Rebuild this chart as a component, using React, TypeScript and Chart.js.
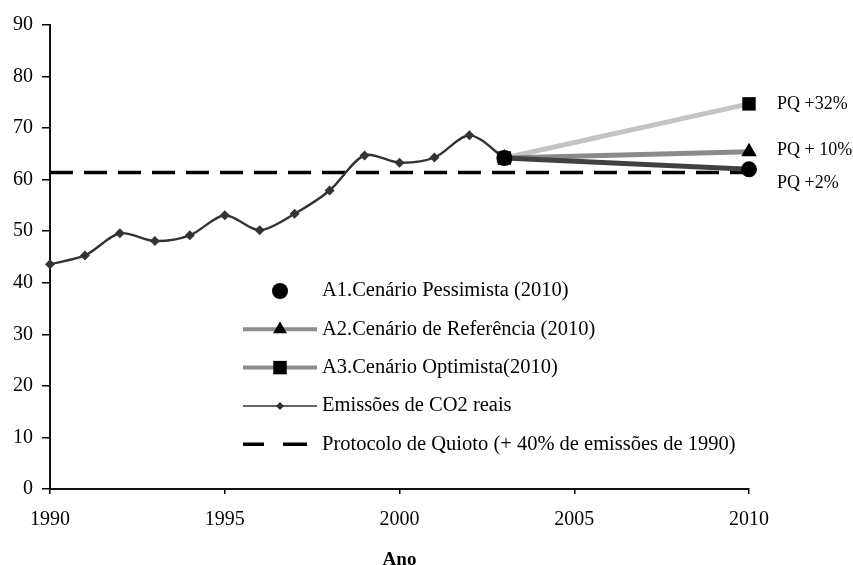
import React, { useEffect, useRef } from 'react';
import { Chart, registerables } from 'chart.js';

Chart.register(...registerables);

const years = [1990, 1991, 1992, 1993, 1994, 1995, 1996, 1997, 1998, 1999, 2000, 2001, 2002, 2003];
const emissions = [43.6, 45.3, 49.6, 48.1, 49.2, 53.1, 50.2, 53.4, 57.9, 64.7, 63.3, 64.3, 68.6, 64.2];
const scenarioYears = [2003, 2010];
const pessimista = [64.2, 62.0];
const referencia = [64.2, 65.4];
const optimista = [64.2, 74.7];
const kyotoYears = [1990, 2010];
const kyoto = [61.4, 61.4];
const pqLabels = ['PQ +2%', 'PQ + 10%', 'PQ +32%'];
const legendLabels = [
  'A1.Cenário Pessimista (2010)',
  'A2.Cenário de Referência (2010)',
  'A3.Cenário Optimista(2010)',
  'Emissões de CO2 reais',
  'Protocolo de Quioto (+ 40% de emissões de 1990)',
];
const xTicks = [1990, 1995, 2000, 2005, 2010];
const yTicks = [0, 10, 20, 30, 40, 50, 60, 70, 80, 90];
const xTitle = 'Ano';

const FONT = "'Liberation Serif', 'Times New Roman', serif";

const toPts = (xs: number[], ys: number[]) => xs.map((x, i) => ({ x, y: ys[i] }));

function drawMarker(ctx: CanvasRenderingContext2D, style: string, x: number, y: number, r: number) {
  ctx.save();
  ctx.fillStyle = '#000';
  ctx.beginPath();
  if (style === 'circle') {
    ctx.arc(x, y, r, 0, Math.PI * 2);
  } else if (style === 'triangle') {
    const h = r * 1.5;
    const w = r * Math.sqrt(3);
    ctx.moveTo(x, y - r);
    ctx.lineTo(x + w / 2, y - r + h);
    ctx.lineTo(x - w / 2, y - r + h);
    ctx.closePath();
  } else if (style === 'rect') {
    const s = r * Math.SQRT1_2;
    ctx.rect(x - s, y - s, 2 * s, 2 * s);
  } else if (style === 'rectRot') {
    ctx.moveTo(x, y - r);
    ctx.lineTo(x + r, y);
    ctx.lineTo(x, y + r);
    ctx.lineTo(x - r, y);
    ctx.closePath();
    ctx.fillStyle = '#333';
  }
  ctx.fill();
  ctx.restore();
}

const legendPlugin = {
  id: 'customLegend',
  afterDraw(chart: any) {
    const ctx: CanvasRenderingContext2D = chart.ctx;
    const { left, top } = chart.chartArea;
    const x0 = left + 193;
    const x1 = left + 267;
    const xm = (x0 + x1) / 2;
    const textX = left + 272;
    const rowY0 = top + 266;
    const step = 38.3;
    ctx.save();
    ctx.font = `20.5px ${FONT}`;
    ctx.textBaseline = 'middle';
    ctx.textAlign = 'left';
    legendLabels.forEach((label, i) => {
      const y = rowY0 + i * step;
      ctx.save();
      if (i === 0) {
        drawMarker(ctx, 'circle', xm, y, 8);
      } else if (i === 1 || i === 2) {
        ctx.strokeStyle = '#8c8c8c';
        ctx.lineWidth = 4;
        ctx.beginPath();
        ctx.moveTo(x0, y);
        ctx.lineTo(x1, y);
        ctx.stroke();
        drawMarker(ctx, i === 1 ? 'triangle' : 'rect', xm, y, i === 1 ? 8 : 9.5);
      } else if (i === 3) {
        ctx.strokeStyle = '#333';
        ctx.lineWidth = 1.5;
        ctx.beginPath();
        ctx.moveTo(x0, y);
        ctx.lineTo(x1, y);
        ctx.stroke();
        drawMarker(ctx, 'rectRot', xm, y, 4);
      } else {
        ctx.strokeStyle = '#000';
        ctx.lineWidth = 3.5;
        ctx.beginPath();
        ctx.moveTo(x0, y);
        ctx.lineTo(x0 + 21, y);
        ctx.moveTo(x0 + 40, y);
        ctx.lineTo(x0 + 64, y);
        ctx.stroke();
      }
      ctx.restore();
      ctx.fillStyle = '#000';
      ctx.fillText(label, textX, y);
    });
    ctx.restore();
  },
};

const pqPlugin = {
  id: 'pqLabels',
  afterDraw(chart: any) {
    const ctx: CanvasRenderingContext2D = chart.ctx;
    const offsets = [14, -2, 0];
    ctx.save();
    ctx.font = `18px ${FONT}`;
    ctx.fillStyle = '#000';
    ctx.textBaseline = 'middle';
    ctx.textAlign = 'left';
    [2, 3, 4].forEach((dsIndex, i) => {
      const meta = chart.getDatasetMeta(dsIndex);
      const pt = meta.data[meta.data.length - 1];
      if (!pt) return;
      ctx.fillText(pqLabels[i], pt.x + 28, pt.y + offsets[i]);
    });
    ctx.restore();
  },
};

export default function App() {
  const canvasRef = useRef<HTMLCanvasElement | null>(null);

  useEffect(() => {
    const canvas = canvasRef.current;
    if (!canvas) return;
    const chart = new Chart(canvas, {
      type: 'line',
      data: {
        datasets: [
          {
            label: legendLabels[4],
            data: toPts(kyotoYears, kyoto),
            borderColor: '#000',
            borderWidth: 3.5,
            borderDash: [23, 11],
            pointRadius: 0,
            fill: false,
            order: 6,
          },
          {
            label: legendLabels[3],
            data: toPts(years, emissions),
            borderColor: '#333',
            borderWidth: 2.4,
            pointStyle: 'rectRot',
            pointRadius: 5,
            pointBackgroundColor: '#333',
            pointBorderColor: '#333',
            pointBorderWidth: 0,
            tension: 0.3,
            fill: false,
            order: 5,
          },
          {
            label: legendLabels[0],
            data: toPts(scenarioYears, pessimista),
            borderColor: '#404040',
            borderWidth: 5,
            pointStyle: 'circle',
            pointRadius: 8,
            pointBackgroundColor: '#000',
            pointBorderColor: '#000',
            pointBorderWidth: 0,
            fill: false,
            order: 2,
          },
          {
            label: legendLabels[1],
            data: toPts(scenarioYears, referencia),
            borderColor: '#8a8a8a',
            borderWidth: 5,
            pointStyle: 'triangle',
            pointRadius: 9,
            pointBackgroundColor: '#000',
            pointBorderColor: '#000',
            pointBorderWidth: 0,
            fill: false,
            order: 3,
          },
          {
            label: legendLabels[2],
            data: toPts(scenarioYears, optimista),
            borderColor: '#c4c4c4',
            borderWidth: 5,
            pointStyle: 'rect',
            pointRadius: 9.5,
            pointBackgroundColor: '#000',
            pointBorderColor: '#000',
            pointBorderWidth: 0,
            fill: false,
            order: 4,
          },
        ] as any,
      },
      options: {
        animation: false,
        responsive: false,
        devicePixelRatio: 1,
        layout: { padding: { top: 25, right: 104, left: 0, bottom: 0 } },
        plugins: {
          legend: { display: false },
          tooltip: { enabled: false },
        },
        datasets: { line: { clip: false } } as any,
        scales: {
          x: {
            type: 'linear',
            min: 1990,
            max: 2010,
            afterBuildTicks: (s: any) => {
              s.ticks = xTicks.map((v) => ({ value: v }));
            },
            afterFit: (s: any) => {
              s.height = 76;
            },
            ticks: {
              callback: (v: any) => String(v),
              color: '#000',
              font: { family: FONT, size: 20 },
              padding: 14,
              maxRotation: 0,
            },
            grid: {
              drawOnChartArea: false,
              drawTicks: true,
              tickLength: 5,
              color: '#000',
              lineWidth: 1.5,
            },
            border: { display: true, color: '#111', width: 2 },
            title: {
              display: true,
              text: xTitle,
              color: '#000',
              font: { family: FONT, size: 19, weight: 'bold' },
              padding: { top: 0, bottom: -6 },
            },
          },
          y: {
            type: 'linear',
            min: 0,
            max: 90,
            afterBuildTicks: (s: any) => {
              s.ticks = yTicks.map((v) => ({ value: v }));
            },
            afterFit: (s: any) => {
              s.width = 50;
            },
            ticks: {
              callback: (v: any) => String(v),
              color: '#000',
              font: { family: FONT, size: 20 },
              padding: 9,
            },
            grid: {
              drawOnChartArea: false,
              drawTicks: true,
              tickLength: 8,
              color: '#000',
              lineWidth: 1.5,
            },
            border: { display: true, color: '#111', width: 2 },
          },
        },
      } as any,
      plugins: [legendPlugin, pqPlugin],
    });
    return () => chart.destroy();
  }, []);

  return (
    <div style={{ position: 'fixed', left: 0, top: 0, width: 853, height: 565, background: '#fff' }}>
      <canvas ref={canvasRef} width={853} height={565} style={{ width: 853, height: 565 }} />
    </div>
  );
}
